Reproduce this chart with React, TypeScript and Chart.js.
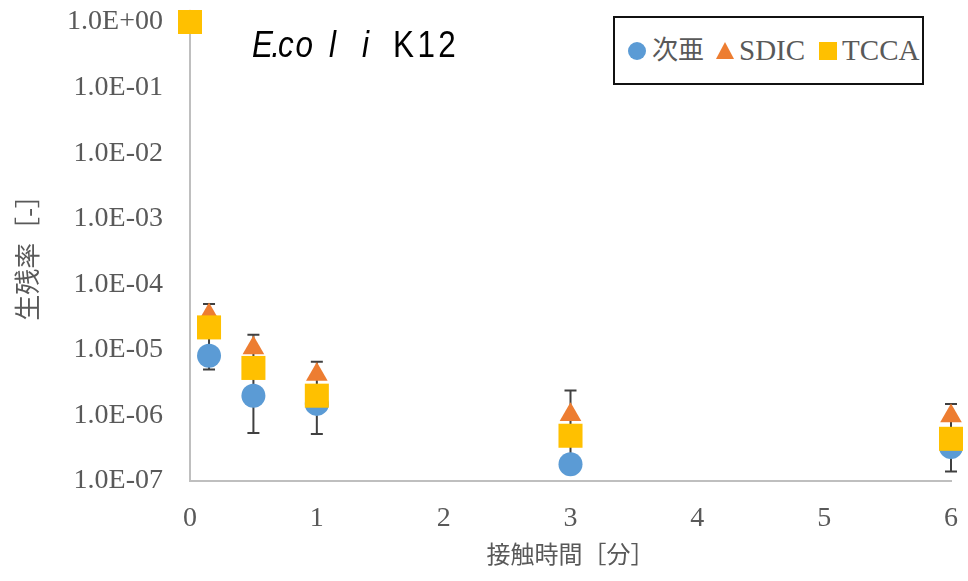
import React, { useEffect, useRef } from 'react';
import { Chart, registerables } from 'chart.js';

Chart.register(...registerables);

// ---- data ----
const times = [0, 0.15, 0.5, 1, 3, 6];
const hypoValues = [1, 8.1e-6, 2.0e-6, 1.5e-6, 1.8e-7, 3.3e-7];
const sdicValues = [1, 3.4e-5, 1.07e-5, 4.2e-6, 1.02e-6, 9.8e-7];
const tccaValues = [1, 2.2e-5, 5.3e-6, 2.0e-6, 4.9e-7, 4.4e-7];

const hypoErrLow = [1, 5.0e-6, 5.4e-7, 5.2e-7, 1.8e-7, 1.4e-7];
const hypoErrHigh = [1, 2.0e-5, 5.0e-6, 2.0e-6, 4.8e-7, 4.4e-7];
const sdicErrLow = [1, 2.5e-5, 6.0e-6, 2.5e-6, 6.0e-7, 5.0e-7];
const sdicErrHigh = [1, 5.0e-5, 1.7e-5, 6.6e-6, 2.4e-6, 1.5e-6];

const yTickValues = [1, 1e-1, 1e-2, 1e-3, 1e-4, 1e-5, 1e-6, 1e-7];
const yTickLabels = ['1.0E+00', '1.0E-01', '1.0E-02', '1.0E-03', '1.0E-04', '1.0E-05', '1.0E-06', '1.0E-07'];
const xTickValues = [0, 1, 2, 3, 4, 5, 6];

const seriesNames = ['次亜', 'SDIC', 'TCCA'];
const xTitle = '接触時間［分］';
const yTitle = '生残率［-］';

const BLUE = '#5B9BD5';
const ORANGE = '#ED7D31';
const YELLOW = '#FFC000';
const TEXT = '#595959';

const errorSets = [
  { low: hypoErrLow, high: hypoErrHigh },
  { low: sdicErrLow, high: sdicErrHigh },
];

const errorBarPlugin = {
  id: 'errorBars',
  beforeDatasetsDraw(chart: any) {
    const { ctx, scales } = chart;
    const x = scales.x;
    const y = scales.y;
    ctx.save();
    ctx.strokeStyle = '#404040';
    ctx.lineWidth = 2;
    errorSets.forEach(({ low, high }) => {
      times.forEach((t, i) => {
        if (low[i] === high[i]) return;
        const px = x.getPixelForValue(t);
        const yl = y.getPixelForValue(low[i]);
        const yh = y.getPixelForValue(high[i]);
        ctx.beginPath();
        ctx.moveTo(px, yl);
        ctx.lineTo(px, yh);
        ctx.moveTo(px - 6, yl);
        ctx.lineTo(px + 6, yl);
        ctx.moveTo(px - 6, yh);
        ctx.lineTo(px + 6, yh);
        ctx.stroke();
      });
    });
    ctx.restore();
  },
};

const toPoints = (vals: number[]) => times.map((t, i) => ({ x: t, y: vals[i] }));

export default function App() {
  const canvasRef = useRef<HTMLCanvasElement | null>(null);

  useEffect(() => {
    document.body.style.margin = '0';
    const canvas = canvasRef.current;
    if (!canvas) return;
    const chart = new Chart(canvas, {
      type: 'scatter',
      data: {
        datasets: [
          {
            label: seriesNames[0],
            data: toPoints(hypoValues),
            pointStyle: 'circle',
            pointRadius: 12,
            backgroundColor: BLUE,
            borderColor: BLUE,
            borderWidth: 0,
            order: 2,
            clip: false as any,
          },
          {
            label: seriesNames[1],
            data: toPoints(sdicValues),
            pointStyle: 'triangle',
            pointRadius: 12.5,
            backgroundColor: ORANGE,
            borderColor: ORANGE,
            borderWidth: 0,
            order: 1,
            clip: false as any,
          },
          {
            label: seriesNames[2],
            data: toPoints(tccaValues),
            pointStyle: 'rect',
            pointRadius: 17,
            backgroundColor: YELLOW,
            borderColor: YELLOW,
            borderWidth: 0,
            order: 0,
            clip: false as any,
          },
        ],
      },
      options: {
        responsive: false,
        animation: false,
        layout: { padding: { left: 0, right: 16, top: 22, bottom: 0 } },
        plugins: {
          legend: { display: false },
          tooltip: { enabled: false },
        },
        scales: {
          x: {
            type: 'linear',
            min: 0,
            max: 6,
            afterFit: (s: any) => {
              s.height = 100;
              s.paddingLeft = 0;
              s.paddingRight = 0;
            },
            afterBuildTicks: (s: any) => {
              s.ticks = xTickValues.map((v) => ({ value: v }));
            },
            grid: { display: false, drawTicks: false },
            border: { display: true, color: '#BFBFBF', width: 2 },
            ticks: {
              padding: 21,
              color: TEXT,
              font: { family: '"Liberation Serif", serif', size: 28 },
              maxRotation: 0,
              autoSkip: false,
              callback: (v: any) => String(v),
            },
            title: {
              display: true,
              text: xTitle,
              color: TEXT,
              font: { family: '"Liberation Serif", "Noto Sans CJK JP", serif', size: 24 },
              padding: { top: 0, bottom: 10 },
            },
          },
          y: {
            type: 'logarithmic',
            min: 1e-7,
            max: 1,
            afterFit: (s: any) => {
              s.width = 190;
              s.paddingTop = 0;
              s.paddingBottom = 0;
            },
            afterBuildTicks: (s: any) => {
              s.ticks = yTickValues.map((v) => ({ value: v }));
            },
            grid: { display: false, drawTicks: false },
            border: { display: true, color: '#BFBFBF', width: 2 },
            ticks: {
              padding: 27,
              color: TEXT,
              font: { family: '"Liberation Serif", serif', size: 28 },
              autoSkip: false,
              callback: (v: any) => {
                const idx = yTickValues.findIndex((t) => Math.abs(Math.log10(t) - Math.log10(v)) < 1e-6);
                return idx >= 0 ? yTickLabels[idx] : '';
              },
            },
            title: {
              display: true,
              text: yTitle,
              color: TEXT,
              font: { family: '"Liberation Serif", "Noto Sans CJK JP", serif', size: 26 },
              padding: { top: 15, bottom: 0 },
            },
          },
        },
      } as any,
      plugins: [errorBarPlugin],
    });
    return () => chart.destroy();
  }, []);

  const marker = (shape: string, color: string) => {
    if (shape === 'circle')
      return <span style={{ display: 'inline-block', width: 18, height: 18, borderRadius: '50%', background: color }} />;
    if (shape === 'triangle')
      return (
        <svg width="18" height="17" style={{ display: 'block' }}>
          <polygon points="9,0 18,17 0,17" fill={color} />
        </svg>
      );
    return <span style={{ display: 'inline-block', width: 18, height: 18, background: color }} />;
  };

  const textStyle: React.CSSProperties = {
    fontFamily: '"Liberation Serif", "Noto Sans CJK JP", serif',
    fontSize: 29,
    color: TEXT,
    lineHeight: '29px',
  };

  const titleSeg = (text: string, left: number, italic: boolean, spacing = 0) => (
    <span
      style={{
        position: 'absolute',
        left,
        top: 0,
        fontStyle: italic ? 'italic' : 'normal',
        letterSpacing: spacing,
        transform: 'scaleX(0.85)',
        transformOrigin: 'left top',
      }}
    >
      {text}
    </span>
  );

  return (
    <div style={{ position: 'relative', width: 968, height: 581, background: '#fff' }}>
      <canvas ref={canvasRef} width={968} height={581} style={{ display: 'block' }} />
      <div
        style={{
          position: 'absolute',
          left: 0,
          top: 26,
          width: 968,
          height: 40,
          fontFamily: '"Liberation Sans", Arial, sans-serif',
          fontSize: 37,
          lineHeight: '37px',
          color: '#000',
          whiteSpace: 'nowrap',
        }}
      >
        {titleSeg('E.', 252, true, -2)}
        {titleSeg('co', 278, true, 2)}
        {titleSeg('l', 329, true)}
        {titleSeg('i', 362, true)}
        {titleSeg('K12', 393, false, 4)}
      </div>
      <div
        style={{
          position: 'absolute',
          left: 613,
          top: 16,
          width: 294,
          height: 65,
          border: '2px solid #111',
          display: 'flex',
          alignItems: 'center',
          paddingLeft: 13,
          boxSizing: 'content-box',
          background: '#fff',
        }}
      >
        {marker('circle', BLUE)}
        <span style={{ ...textStyle, fontSize: 26, marginLeft: 6, marginRight: 12 }}>{seriesNames[0]}</span>
        {marker('triangle', ORANGE)}
        <span style={{ ...textStyle, marginLeft: 5, marginRight: 14 }}>{seriesNames[1]}</span>
        {marker('square', YELLOW)}
        <span style={{ ...textStyle, marginLeft: 5 }}>{seriesNames[2]}</span>
      </div>
    </div>
  );
}
